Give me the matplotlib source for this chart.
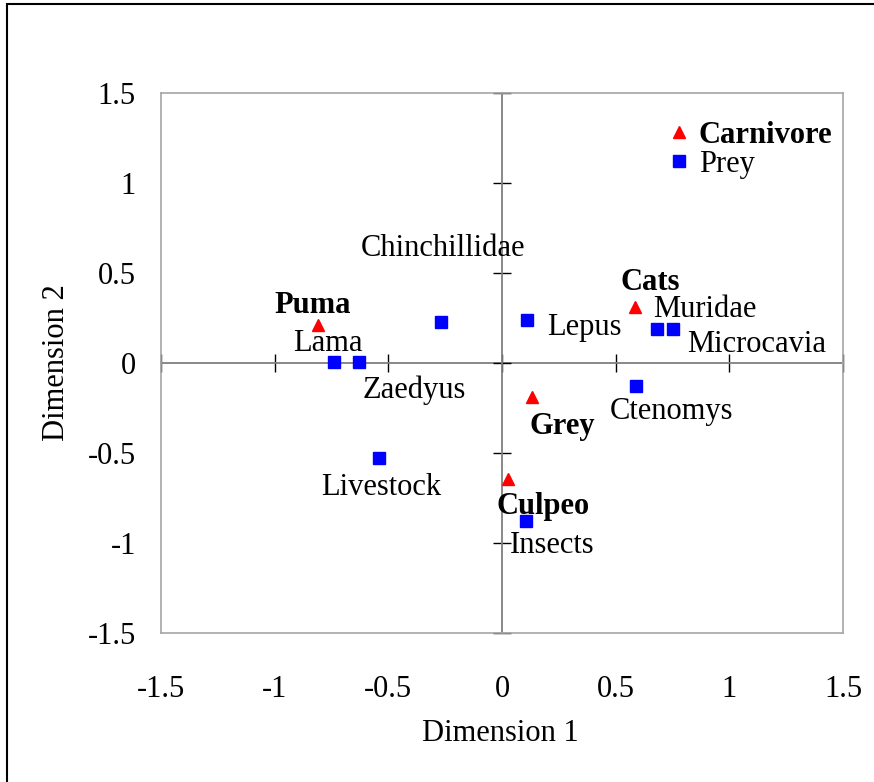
import matplotlib
matplotlib.use("Agg")
import matplotlib.pyplot as plt
from matplotlib.lines import Line2D
from matplotlib.patches import Rectangle
from matplotlib.ticker import FuncFormatter

# carnivores (red triangles) and prey (blue squares) on the two dimensions
carnivore_names = ["Puma", "Cats", "Grey", "Culpeo"]
carnivore_dim1 = [-0.81, 0.585, 0.13, 0.026]
carnivore_dim2 = [0.21, 0.31, -0.19, -0.645]

prey_names = ["Lama", "Zaedyus", "Chinchillidae", "Livestock", "Lepus",
              "Muridae", "Microcavia", "Ctenomys", "Insects"]
prey_dim1 = [-0.74, -0.63, -0.27, -0.54, 0.11, 0.68, 0.75, 0.59, 0.105]
prey_dim2 = [0.005, 0.005, 0.23, -0.53, 0.24, 0.19, 0.19, -0.13, -0.88]

ticks = [-1.5, -1, -0.5, 0, 0.5, 1, 1.5]

# label offsets from each point, in pixels
carnivore_offsets = [(-5, 20), (15, 25), (31, -29), (35, -27)]
prey_offsets = [(-6, 19), (55, -28), (2, 73), (2, -29), (57, -8),
                (48, 19), (84, -16), (35, -25), (26, -24)]

plt.rcParams["font.family"] = ["Liberation Serif", "DejaVu Serif"]
plt.rcParams["axes.unicode_minus"] = False
FS = 22

fig = plt.figure(figsize=(8.74, 7.82), dpi=100)
ax = fig.add_axes([161 / 874, 149 / 782, 682 / 874, 540 / 782])
ax.set_xlim(-1.5, 1.5)
ax.set_ylim(-1.5, 1.5)

fmt = FuncFormatter(lambda v, pos: "%g" % v)
ax.set_xticks(ticks)
ax.set_yticks(ticks)
ax.xaxis.set_major_formatter(fmt)
ax.yaxis.set_major_formatter(fmt)
ax.tick_params(axis="x", length=0, pad=30, labelsize=FS)
ax.tick_params(axis="y", length=0, pad=18, labelsize=FS)
for lbl in ax.get_yticklabels():
    lbl.set_va("center_baseline")
for s in ax.spines.values():
    s.set_color("#a6a6a6")
    s.set_linewidth(1.2)

# axes crossing at the origin
sx = ax.secondary_xaxis(0.5)
sx.set_xticks(ticks)
sx.tick_params(direction="inout", length=13, width=1, color="black",
               labeltop=False, labelbottom=False)
sy = ax.secondary_yaxis(0.5)
sy.set_yticks(ticks)
sy.tick_params(direction="inout", length=13, width=1, color="black",
               labelleft=False, labelright=False)
for sec in (sx, sy):
    for s in sec.spines.values():
        s.set_color("#7f7f7f")
        s.set_linewidth(1.3)

ax.plot(prey_dim1, prey_dim2, "s", color="#0000ff", ms=8.5, zorder=5)
ax.plot(carnivore_dim1, carnivore_dim2, "^", color="#ff0000", ms=9, zorder=5)

for name, x, y, off in zip(carnivore_names, carnivore_dim1, carnivore_dim2, carnivore_offsets):
    ax.annotate(name, (x, y), xytext=off, textcoords="offset pixels",
                ha="center", va="center", fontsize=FS, fontweight="bold")
for name, x, y, off in zip(prey_names, prey_dim1, prey_dim2, prey_offsets):
    ax.annotate(name, (x, y), xytext=off, textcoords="offset pixels",
                ha="center", va="center", fontsize=FS)

ax.set_xlabel("Dimension 1", fontsize=FS)
ax.set_ylabel("Dimension 2", fontsize=FS)
ax.xaxis.set_label_coords(0.497, -0.16)
ax.yaxis.set_label_coords(-0.132, 0.5)

handles = [Line2D([], [], ls="none", marker="^", color="#ff0000", ms=9),
           Line2D([], [], ls="none", marker="s", color="#0000ff", ms=8.5)]
leg = ax.legend(handles, ["Carnivore", "Prey"], loc="upper left",
                bbox_to_anchor=(0.746, 0.948), frameon=False, fontsize=FS,
                handlelength=0.6, handletextpad=0.35, labelspacing=0,
                borderpad=0, borderaxespad=0)
leg.get_texts()[0].set_fontweight("bold")

# outer frame of the figure
fig.patches.append(Rectangle((7 / 874, -0.05), 1.2, 1.05 - 4 / 782, fill=False,
                             edgecolor="black", lw=1.5,
                             transform=fig.transFigure, clip_on=False))

fig.savefig("out.png", dpi=100)
